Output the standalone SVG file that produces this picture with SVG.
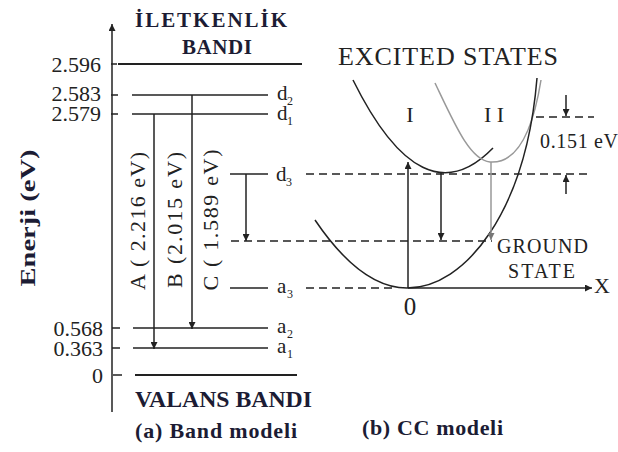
<svg xmlns="http://www.w3.org/2000/svg" width="618" height="452" viewBox="0 0 618 452">
<style>
text{font-family:"Liberation Serif","Times New Roman",serif;fill:#222}
.t{font-weight:bold;fill:#1c1c34}
.num{font-size:22px;text-anchor:end}
.lab{font-size:21px}
.sub{font-size:12px}
.ln{stroke:#222;stroke-width:1.5;fill:none}
.thick{stroke:#222;stroke-width:2.2;fill:none}
.dash{stroke:#222;stroke-width:1.6;stroke-dasharray:8 5;fill:none}
.grey{stroke:#999;stroke-width:1.5;fill:none}
</style>
<defs>
<marker id="ah" viewBox="0 0 10 10" refX="10" refY="5" markerWidth="7" markerHeight="7" markerUnits="userSpaceOnUse" orient="auto">
<path d="M0,0 L10,5 L0,10 z" fill="#222"/>
</marker>
<marker id="ahg" viewBox="0 0 10 10" refX="10" refY="5" markerWidth="7" markerHeight="7" markerUnits="userSpaceOnUse" orient="auto">
<path d="M0,0 L10,5 L0,10 z" fill="#777"/>
</marker>
</defs>

<g id="titles">
<text class="t" x="211" y="27" font-size="21" text-anchor="middle" textLength="152" lengthAdjust="spacing">İLETKENLİK</text>
<text class="t" x="217" y="54" font-size="21" text-anchor="middle" textLength="70" lengthAdjust="spacing">BANDI</text>
<text class="t" x="135" y="407" font-size="23" textLength="177" lengthAdjust="spacingAndGlyphs">VALANS BANDI</text>
<text class="t" x="135" y="438" font-size="22" textLength="162" lengthAdjust="spacing">(a) Band modeli</text>
<text class="t" x="362" y="435" font-size="22" textLength="141" lengthAdjust="spacing">(b) CC modeli</text>
<text class="t" transform="translate(35,218) rotate(-90)" font-size="21" text-anchor="middle" textLength="137" lengthAdjust="spacingAndGlyphs">Enerji (eV)</text>
<text x="338" y="65" font-size="26" textLength="220" lengthAdjust="spacing">EXCITED STATES</text>
</g>

<g id="axis-band">
<line class="ln" x1="112" y1="412" x2="112" y2="24" marker-end="url(#ah)"/>
<line class="ln" x1="111" y1="64" x2="117" y2="64"/>
<line class="ln" x1="111" y1="95" x2="118" y2="95"/>
<line class="ln" x1="111" y1="114" x2="118" y2="114"/>
<line class="ln" x1="112" y1="328" x2="120" y2="328"/>
<line class="ln" x1="112" y1="348" x2="120" y2="348"/>
<line class="ln" x1="113" y1="375" x2="122" y2="375"/>
<text class="num" x="101" y="72">2.596</text>
<text class="num" x="101" y="101">2.583</text>
<text class="num" x="101" y="121">2.579</text>
<text class="num" x="103" y="336">0.568</text>
<text class="num" x="103" y="356">0.363</text>
<text class="num" x="103" y="383">0</text>
</g>

<g id="levels">
<line class="thick" x1="118" y1="64" x2="302" y2="64"/>
<line class="ln" x1="132" y1="95" x2="268" y2="95"/>
<line class="ln" x1="132" y1="114" x2="268" y2="114"/>
<line class="ln" x1="230" y1="174" x2="268" y2="174"/>
<line class="ln" x1="230" y1="288" x2="268" y2="288"/>
<line class="ln" x1="133" y1="328" x2="268" y2="328"/>
<line class="ln" x1="133" y1="348" x2="268" y2="348"/>
<line class="thick" x1="135" y1="375" x2="297" y2="375"/>
<text class="lab" x="277" y="100">d</text><text class="sub" x="287" y="105">2</text>
<text class="lab" x="277" y="120">d</text><text class="sub" x="287" y="125">1</text>
<text class="lab" x="276" y="181">d</text><text class="sub" x="286" y="186">3</text>
<text class="lab" x="277" y="293">a</text><text class="sub" x="287" y="298">3</text>
<text class="lab" x="277" y="333">a</text><text class="sub" x="287" y="338">2</text>
<text class="lab" x="277" y="353">a</text><text class="sub" x="287" y="358">1</text>
</g>

<g id="transitions">
<text transform="translate(145,221) rotate(-90)" font-size="22" text-anchor="middle" textLength="138" lengthAdjust="spacing">A ( 2.216 eV)</text>
<text transform="translate(182,220) rotate(-90)" font-size="22" text-anchor="middle" textLength="136" lengthAdjust="spacing">B (2.015 eV)</text>
<text transform="translate(218,220) rotate(-90)" font-size="22" text-anchor="middle" textLength="141" lengthAdjust="spacing">C ( 1.589 eV)</text>
</g>

<g id="cc-curves">
<path class="ln" d="M353,80 Q422.5,220.5 493,148"/>
<path class="grey" d="M435,83 C455,125 470,160 490,162 C518,164 533,130 541,80"/>
<path class="ln" d="M315,220 Q361,288 407,288 C465,288 526,212 537,78"/>
</g>

<g id="cc-labels">
<text x="410" y="122" font-size="22" text-anchor="middle">I</text>
<text x="494" y="122" font-size="22" text-anchor="middle">I I</text>
<text x="540" y="148" font-size="20" textLength="78" lengthAdjust="spacing">0.151 eV</text>
<text x="497" y="253" font-size="20" textLength="91" lengthAdjust="spacing">GROUND</text>
<text x="508" y="278" font-size="20" textLength="67" lengthAdjust="spacing">STATE</text>
<text x="594" y="293" font-size="22">X</text>
<text x="410" y="315" font-size="25" text-anchor="middle">0</text>
</g>

<g id="connectors">
<line class="ln" x1="154" y1="114" x2="154" y2="349" marker-end="url(#ah)"/>
<line class="ln" x1="192" y1="95" x2="192" y2="329" marker-end="url(#ah)"/>
<line class="ln" x1="246" y1="174" x2="246" y2="241" marker-end="url(#ah)"/>
<line class="dash" x1="306" y1="174" x2="592" y2="174"/>
<line class="dash" x1="231" y1="241" x2="492" y2="241"/>
<line class="dash" x1="306" y1="288" x2="396" y2="288"/>
<line class="dash" x1="536" y1="117" x2="594" y2="117"/>
<line class="ln" x1="408" y1="288" x2="592" y2="288" marker-end="url(#ah)"/>
<line class="ln" x1="408" y1="288" x2="408" y2="162" marker-end="url(#ah)"/>
<line class="ln" x1="441" y1="173" x2="441" y2="240" marker-end="url(#ah)"/>
<line class="grey" x1="491" y1="162" x2="491" y2="240" marker-end="url(#ahg)"/>
<line class="ln" x1="566" y1="95" x2="566" y2="116" marker-end="url(#ah)"/>
<line class="ln" x1="566" y1="194" x2="566" y2="175" marker-end="url(#ah)"/>
</g>
</svg>
